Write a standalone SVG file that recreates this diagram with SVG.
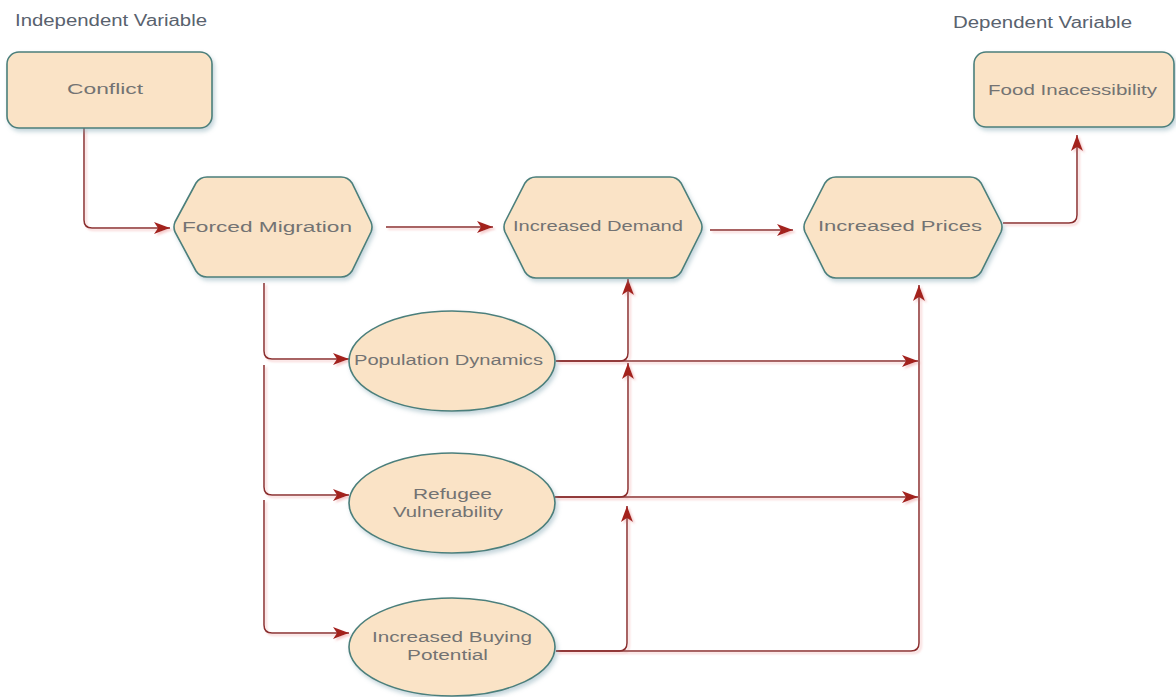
<svg xmlns="http://www.w3.org/2000/svg" width="1176" height="697" viewBox="0 0 1176 697">
<style>
.node{fill:#FAE3C6;stroke:#4B7F7B;stroke-width:1.6}
.lbl{font-family:"Liberation Sans",Arial,sans-serif;font-size:14px;fill:#737373}
.hdr{font-family:"Liberation Sans",Arial,sans-serif;font-size:16px;fill:#59626e}
.edge{fill:none;stroke:#8b2e2e;stroke-width:1.5}
</style>
<defs>
<marker id="arr" markerUnits="userSpaceOnUse" markerWidth="16" markerHeight="12" refX="16" refY="6" orient="auto">
<path d="M0,0 L16,6 L0,12 L4,6 z" fill="#a3201f"/>
</marker>
<filter id="nsh" x="-10%" y="-10%" width="125%" height="130%">
<feDropShadow dx="2" dy="3" stdDeviation="2" flood-color="#7fa3b0" flood-opacity="0.45"/>
</filter>
<filter id="esh" x="-5%" y="-5%" width="110%" height="110%">
<feDropShadow dx="2" dy="2" stdDeviation="1.2" flood-color="#f0a8a8" flood-opacity="0.6"/>
</filter>
</defs>
<rect width="1176" height="697" fill="#ffffff"/>
<text class="hdr" x="15" y="26" textLength="192" lengthAdjust="spacingAndGlyphs">Independent Variable</text>
<text class="hdr" x="953" y="28" textLength="179" lengthAdjust="spacingAndGlyphs">Dependent Variable</text>

<g id="connectors" filter="url(#esh)">
<path class="edge" d="M84,128 V220 Q84,228 92,228 H170" marker-end="url(#arr)"/>
<path class="edge" d="M386,227 H493" marker-end="url(#arr)"/>
<path class="edge" d="M710,230 H793" marker-end="url(#arr)"/>
<path class="edge" d="M1003,223 H1069 Q1077,223 1077,215 V135" marker-end="url(#arr)"/>
<path class="edge" d="M264,283 V351 Q264,359 272,359 H349" marker-end="url(#arr)"/>
<path class="edge" d="M264,365 V487 Q264,495 272,495 H349" marker-end="url(#arr)"/>
<path class="edge" d="M264,500 V625 Q264,633 272,633 H349" marker-end="url(#arr)"/>
<path class="edge" d="M556,361 H620 Q628,361 628,353 V279" marker-end="url(#arr)"/>
<path class="edge" d="M556,361 H918" marker-end="url(#arr)"/>
<path class="edge" d="M555,497 H620 Q628,497 628,489 V363" marker-end="url(#arr)"/>
<path class="edge" d="M555,497 H918" marker-end="url(#arr)"/>
<path class="edge" d="M556,651 H619 Q627,651 627,643 V506" marker-end="url(#arr)"/>
<path class="edge" d="M556,651 H911 Q919,651 919,643 V285" marker-end="url(#arr)"/>
</g>

<g id="conflict">
<rect class="node" filter="url(#nsh)" x="7" y="52" width="205" height="76" rx="12"/>
<text class="lbl" x="67" y="94" textLength="76" lengthAdjust="spacingAndGlyphs">Conflict</text>
</g>
<g id="food-inaccessibility">
<rect class="node" filter="url(#nsh)" x="974" y="52" width="200" height="75" rx="12"/>
<text class="lbl" x="988" y="95" textLength="169" lengthAdjust="spacingAndGlyphs">Food Inacessibility</text>
</g>
<g id="forced-migration">
<path class="node" filter="url(#nsh)" d="M175,222 L196,183 Q200,177 207,177 H341 Q348,177 352,183 L371,222 Q373,227 371,232 L352,271 Q348,277 341,277 H207 Q200,277 196,271 L175,232 Q173,227 175,222 Z"/>
<text class="lbl" x="182" y="232" textLength="170" lengthAdjust="spacingAndGlyphs">Forced Migration</text>
</g>
<g id="increased-demand">
<path class="node" filter="url(#nsh)" d="M505,222 L525,183 Q529,177 536,177 H670 Q677,177 681,183 L701,222 Q703,227 701,232 L681,272 Q677,278 670,278 H536 Q529,278 525,272 L505,232 Q503,227 505,222 Z"/>
<text class="lbl" x="513" y="231" textLength="170" lengthAdjust="spacingAndGlyphs">Increased Demand</text>
</g>
<g id="increased-prices">
<path class="node" filter="url(#nsh)" d="M805,222 L825,183 Q829,177 836,177 H970 Q977,177 981,183 L1001,222 Q1003,227 1001,232 L981,272 Q977,278 970,278 H836 Q829,278 825,272 L805,232 Q803,227 805,222 Z"/>
<text class="lbl" x="818" y="231" textLength="164" lengthAdjust="spacingAndGlyphs">Increased Prices</text>
</g>
<g id="population-dynamics">
<ellipse class="node" filter="url(#nsh)" cx="452" cy="361" rx="103" ry="50"/>
<text class="lbl" x="354" y="365" textLength="189" lengthAdjust="spacingAndGlyphs">Population Dynamics</text>
</g>
<g id="refugee-vulnerability">
<ellipse class="node" filter="url(#nsh)" cx="452" cy="503" rx="103" ry="50"/>
<text class="lbl" x="413" y="499" textLength="79" lengthAdjust="spacingAndGlyphs">Refugee</text>
<text class="lbl" x="393" y="517" textLength="110" lengthAdjust="spacingAndGlyphs">Vulnerability</text>
</g>
<g id="increased-buying-potential">
<ellipse class="node" filter="url(#nsh)" cx="452" cy="647" rx="103" ry="49"/>
<text class="lbl" x="372" y="642" textLength="160" lengthAdjust="spacingAndGlyphs">Increased Buying</text>
<text class="lbl" x="407" y="660" textLength="81" lengthAdjust="spacingAndGlyphs">Potential</text>
</g>
</svg>
